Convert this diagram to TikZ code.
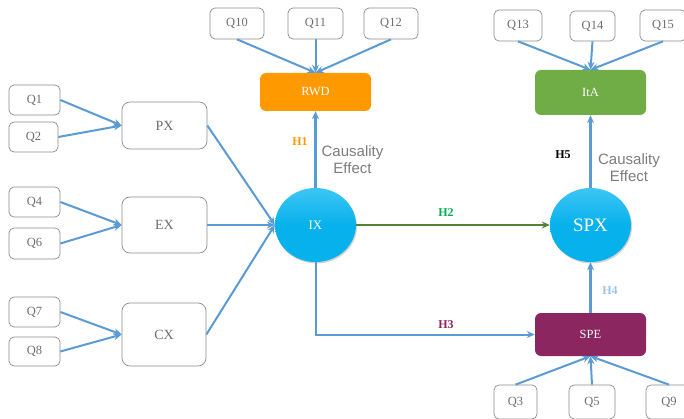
\documentclass[tikz,border=0pt]{standalone}
\usepackage{fontspec}
\setmainfont{Liberation Serif}
\newfontfamily\arialf{Liberation Sans}
\usetikzlibrary{arrows.meta,shadows,shapes.geometric}
\definecolor{qedge}{HTML}{8C8C8C}
\definecolor{qtext}{HTML}{6E6E6E}
\definecolor{arr}{HTML}{5B9BD5}
\definecolor{cyanc}{HTML}{07B1EC}
\definecolor{cyanl}{HTML}{3CC6F5}
\definecolor{rwdc}{HTML}{FF9900}
\definecolor{itac}{HTML}{70AD47}
\definecolor{spec}{HTML}{8B2660}
\definecolor{hgreen}{HTML}{00B050}
\definecolor{htwo}{HTML}{548235}
\definecolor{hfour}{HTML}{9DC3E6}
\tikzset{
  qbox/.style={draw=qedge, line width=0.7pt, rounded corners=5pt, fill=white, text=qtext, font=\fontsize{12.5}{12.5}\selectfont, inner sep=0pt},
  lbox/.style={draw=qedge, line width=0.7pt, rounded corners=8pt, fill=white, text=qtext, font=\fontsize{14}{14}\selectfont, inner sep=0pt},
  cbox/.style={rounded corners=6pt, text=white, font=\fontsize{12.5}{12.5}\selectfont, inner sep=0pt},
  circ/.style={ellipse, top color=cyanl, bottom color=cyanc, middle color=cyanc, text=white, inner sep=0pt, drop shadow={shadow xshift=1pt, shadow yshift=-1.5pt, opacity=0.35}},
  ar/.style={draw=arr, line width=2pt, -{Stealth[length=8pt,width=7pt]}},
  hl/.style={font=\bfseries\fontsize{12}{12}\selectfont},
  ce/.style={text=qtext!90, font=\arialf\fontsize{15}{17}\selectfont, align=center}
}
\begin{document}
\begin{tikzpicture}[x=1pt,y=-1pt]
\useasboundingbox (0,0) rectangle (684,419);
% left Q boxes
\node[qbox, minimum width=51pt, minimum height=30pt] (q1) at (34.5,100) {Q1};
\node[qbox, minimum width=49pt, minimum height=30pt] (q2) at (33.5,137) {Q2};
\node[qbox, minimum width=51pt, minimum height=30pt] (q4) at (34.5,202) {Q4};
\node[qbox, minimum width=51pt, minimum height=31pt] (q6) at (34.5,243.5) {Q6};
\node[qbox, minimum width=51pt, minimum height=30pt] (q7) at (34.5,312) {Q7};
\node[qbox, minimum width=51pt, minimum height=29pt] (q8) at (34.5,351.5) {Q8};
% latent boxes
\node[lbox, minimum width=85pt, minimum height=47pt] (px) at (164.5,125.5) {PX};
\node[lbox, minimum width=85pt, minimum height=56pt] (ex) at (164.5,225) {EX};
\node[lbox, minimum width=84pt, minimum height=63pt] (cx) at (164,334.5) {CX};
% circles
\node[circ, minimum width=81pt, minimum height=74pt, font=\fontsize{13}{13}\selectfont] (ix) at (315.5,225) {IX};
\node[circ, minimum width=81pt, minimum height=74pt, font=\fontsize{19}{19}\selectfont] (spx) at (590.5,225) {SPX};
% coloured boxes
\node[cbox, fill=rwdc, minimum width=111pt, minimum height=38pt] (rwd) at (315.5,92) {RWD};
\node[cbox, fill=itac, minimum width=111pt, minimum height=45pt] (ita) at (590.5,92.5) {ItA};
\node[cbox, fill=spec, minimum width=111pt, minimum height=43pt] (spe) at (590.5,334.5) {SPE};
% top Q boxes
\node[qbox, minimum width=54pt, minimum height=31pt] (q10) at (237,23.5) {Q10};
\node[qbox, minimum width=55pt, minimum height=31pt] (q11) at (315.5,23.5) {Q11};
\node[qbox, minimum width=54pt, minimum height=31pt] (q12) at (391,23.5) {Q12};
\node[qbox, minimum width=48pt, minimum height=31pt] (q13) at (518,25.5) {Q13};
\node[qbox, minimum width=45pt, minimum height=30pt] (q14) at (592.5,26) {Q14};
\node[qbox, minimum width=46pt, minimum height=31pt] (q15) at (663,25.5) {Q15};
% bottom Q boxes
\node[qbox, minimum width=43pt, minimum height=34pt] (q3) at (515.5,402) {Q3};
\node[qbox, minimum width=46pt, minimum height=34pt] (q5) at (592,402) {Q5};
\node[qbox, minimum width=46pt, minimum height=34pt] (q9) at (669,402) {Q9};
% edges left
\draw[ar] (q1.east) -- (px.west);
\draw[ar] (q2.east) -- (px.west);
\draw[ar] (q4.east) -- (ex.west);
\draw[ar] (q6.east) -- (ex.west);
\draw[ar] (q7.east) -- (cx.west);
\draw[ar] (q8.east) -- (cx.west);
\draw[ar] (px.east) -- (ix.west);
\draw[ar] (ex.east) -- (ix.west);
\draw[ar] (cx.east) -- (ix.west);
% top edges
\draw[ar] (q10.south) -- (rwd.north);
\draw[ar] (q11.south) -- (rwd.north);
\draw[ar] (q12.south) -- (rwd.north);
\draw[ar] (q13.south) -- (ita.north);
\draw[ar] (q14.south) -- (ita.north);
\draw[ar] (q15.south) -- (ita.north);
% bottom edges
\draw[ar] (q3.north) -- (spe.south);
\draw[ar] (q5.north) -- (spe.south);
\draw[ar] (q9.north) -- (spe.south);
% hypotheses
\draw[ar, line width=2.6pt] (ix.north) -- (rwd.south);
\draw[ar, line width=2.6pt] (spx.north) -- (ita.south);
\draw[ar, draw=htwo] (ix.east) -- (spx.west);
\draw[ar] (ix.south) |- (spe.west);
\draw[ar, line width=2.6pt] (spe.north) -- (spx.south);
% labels
\node[hl, text=rwdc] (h1) at (300,142) {H1};
\node[ce] (ce1) at (352.5,160) {Causality\\Effect};
\node[hl, text=black] (h5) at (563,155) {H5};
\node[ce] (ce2) at (629,168) {Causality\\Effect};
\node[hl, text=hgreen] (h2) at (446,213) {H2};
\node[hl, text=spec] (h3) at (446,325) {H3};
\node[hl, text=hfour] (h4) at (610,291) {H4};
\end{tikzpicture}
\end{document}
